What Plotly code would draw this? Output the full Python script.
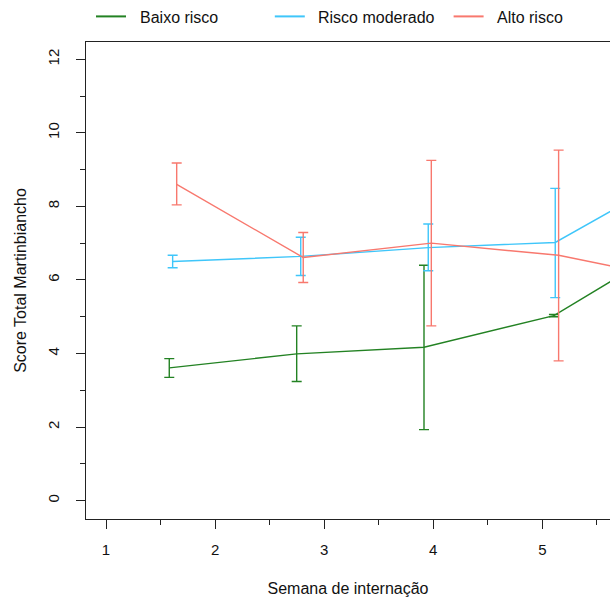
import plotly.graph_objects as go

# ---- data ----
series_names = ["Baixo risco", "Risco moderado", "Alto risco"]
series_colors = ["#238223", "#3FC6FA", "#F8786E"]

# x positions (dodged weeks) as drawn in the reference
x_baixo = [1.580, 2.748, 3.915, 5.106, 6.28]
x_moderado = [1.611, 2.785, 3.954, 5.118, 6.285]
x_alto = [1.648, 2.808, 3.982, 5.149, 6.32]

mean_baixo = [3.61, 3.99, 4.17, 5.03, 7.13]
low_baixo = [3.35, 3.24, 1.93, 5.00, 7.13]
up_baixo = [3.86, 4.75, 6.40, 5.06, 7.13]

mean_moderado = [6.50, 6.64, 6.88, 7.02, 8.97]
low_moderado = [6.33, 6.12, 6.25, 5.52, 8.97]
up_moderado = [6.67, 7.16, 7.52, 8.49, 8.97]

mean_alto = [8.60, 6.61, 7.00, 6.67, 5.97]
low_alto = [8.04, 5.93, 4.75, 3.80, 5.97]
up_alto = [9.18, 7.29, 9.25, 9.53, 5.97]

x_tick_vals = [1, 2, 3, 4, 5]
y_tick_vals = [0, 2, 4, 6, 8, 10, 12]

xs = [x_baixo, x_moderado, x_alto]
means = [mean_baixo, mean_moderado, mean_alto]
lows = [low_baixo, low_moderado, low_alto]
ups = [up_baixo, up_moderado, up_alto]

FONT = "Liberation Sans, Arial, sans-serif"
W, H = 610, 601
ML, MR, MT, MB = 86, 0, 42, 82
PW, PH = W - ML - MR, H - MT - MB

fig = go.Figure()
for name, col, x, m, lo, up in zip(series_names, series_colors, xs, means, lows, ups):
    fig.add_trace(go.Scatter(
        x=x, y=m, mode="lines", name=name, showlegend=False,
        line=dict(color=col, width=1.4),
        error_y=dict(type="data", symmetric=False,
                     array=[u - v for u, v in zip(up, m)],
                     arrayminus=[v - l for v, l in zip(m, lo)],
                     color=col, thickness=1.4, width=5),
    ))

# horizontal key above the plot (R-style legend: equal spacing)
def px_to_paper_x(px):
    return (px - ML) / PW

def py_to_paper_y(py):
    return (H - MB - py) / PH

key_start, key_step = 96, 178.8
for i, (name, col) in enumerate(zip(series_names, series_colors)):
    x0 = key_start + i * key_step
    fig.add_shape(type="line", xref="paper", yref="paper",
                  x0=px_to_paper_x(x0), x1=px_to_paper_x(x0 + 30),
                  y0=py_to_paper_y(16.4), y1=py_to_paper_y(16.4),
                  line=dict(color=col, width=2))
    fig.add_annotation(xref="paper", yref="paper",
                       x=px_to_paper_x(x0 + 41.5), y=py_to_paper_y(17.5),
                       xanchor="left", yanchor="middle", showarrow=False,
                       text=name, font=dict(size=16, family=FONT, color="#111"))

fig.update_layout(
    width=W, height=H,
    margin=dict(l=ML, r=MR, t=MT, b=MB, autoexpand=False),
    paper_bgcolor="white", plot_bgcolor="white",
    font=dict(family=FONT, size=15, color="#111"),
    showlegend=False,
    xaxis=dict(
        range=[0.8167, 5.620], showgrid=False, zeroline=False,
        showline=True, linecolor="#222", linewidth=1, mirror=True,
        ticks="outside", tickvals=x_tick_vals, ticklen=9, tickcolor="#222",
        ticklabelstandoff=8,
        minor=dict(dtick=0.5, tick0=0, ticks="outside", ticklen=5, tickcolor="#222"),
        title=dict(text="Semana de internação", standoff=25, font=dict(size=16)),
        automargin=False,
    ),
    yaxis=dict(
        range=[-0.5, 12.47], showgrid=False, zeroline=False,
        showline=True, linecolor="#222", linewidth=1,
        ticks="outside", tickvals=y_tick_vals, ticklen=9, tickcolor="#222",
        tickangle=-90, ticklabelstandoff=11,
        minor=dict(dtick=1, tick0=0, ticks="outside", ticklen=5, tickcolor="#222"),
        title=dict(text="Score Total Martinbiancho", standoff=14, font=dict(size=16)),
        automargin=False,
    ),
)

fig.write_html("out.html")
